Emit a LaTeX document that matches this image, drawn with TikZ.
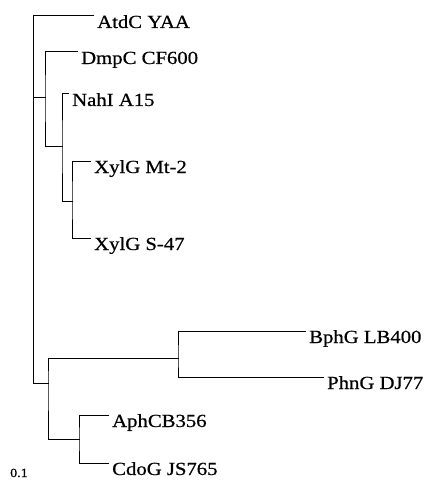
\documentclass[tikz,border=0pt]{standalone}
\usepackage{fontspec}
\setmainfont[FakeStretch=1.12,FakeBold=0.6]{Liberation Serif}
\usetikzlibrary{calc}
\begin{document}
\begin{tikzpicture}[x=1pt,y=-1pt,
  branch/.style={line width=1pt, black, line cap=rect},
  leaf/.style={anchor=base west, inner sep=0pt, font=\fontsize{18.5}{20}\selectfont},
  scalelbl/.style={anchor=base west, inner sep=0pt, font=\fontsize{12.5}{14}\selectfont}]
\useasboundingbox (0,0) rectangle (427,484);
% internal nodes
\coordinate (root) at (33,383);
\coordinate (cA) at (45,98);
\coordinate (cA2) at (62,146);
\coordinate (cA3) at (72,201);
\coordinate (cB) at (48,383);
\coordinate (cB1) at (178,358);
\coordinate (cB2) at (79,439);
% tips
\coordinate (tAtd) at (93,16);
\coordinate (tDmp) at (77,52);
\coordinate (tNah) at (68,94);
\coordinate (tMt) at (90,161);
\coordinate (tS47) at (90,238);
\coordinate (tBph) at (305,331);
\coordinate (tPhn) at (323,377);
\coordinate (tAph) at (108,415);
\coordinate (tCdo) at (108,463);
% labels
\node[leaf] (lAtd) at ($(tAtd)+(4,12)$) {AtdC YAA};
\node[leaf] (lDmp) at ($(tDmp)+(4,12)$) {DmpC CF600};
\node[leaf] (lNah) at ($(tNah)+(4,12)$) {NahI A15};
\node[leaf] (lMt) at ($(tMt)+(4,12)$) {XylG Mt-2};
\node[leaf] (lS47) at ($(tS47)+(4,12)$) {XylG S-47};
\node[leaf] (lBph) at ($(tBph)+(4,12)$) {BphG LB400};
\node[leaf] (lPhn) at ($(tPhn)+(4,12)$) {PhnG DJ77};
\node[leaf] (lAph) at ($(tAph)+(4,12)$) {AphCB356};
\node[leaf] (lCdo) at ($(tCdo)+(4,12)$) {CdoG JS765};
\node[scalelbl] (scale) at (10,477) {0.1};
% branches
\draw[branch] (tAtd) -| (root) -- (cB);
\draw[branch] (root |- cA) -- (cA);
\draw[branch] (tDmp) -| (cA) |- (cA2);
\draw[branch] (tNah) -| (cA2) |- (cA3);
\draw[branch] (tMt) -| (cA3) |- (tS47);
\draw[branch] (cB1) -| (cB) |- (cB2);
\draw[branch] (tBph) -| (cB1) |- (tPhn);
\draw[branch] (tAph) -| (cB2) |- (tCdo);
\end{tikzpicture}
\end{document}
